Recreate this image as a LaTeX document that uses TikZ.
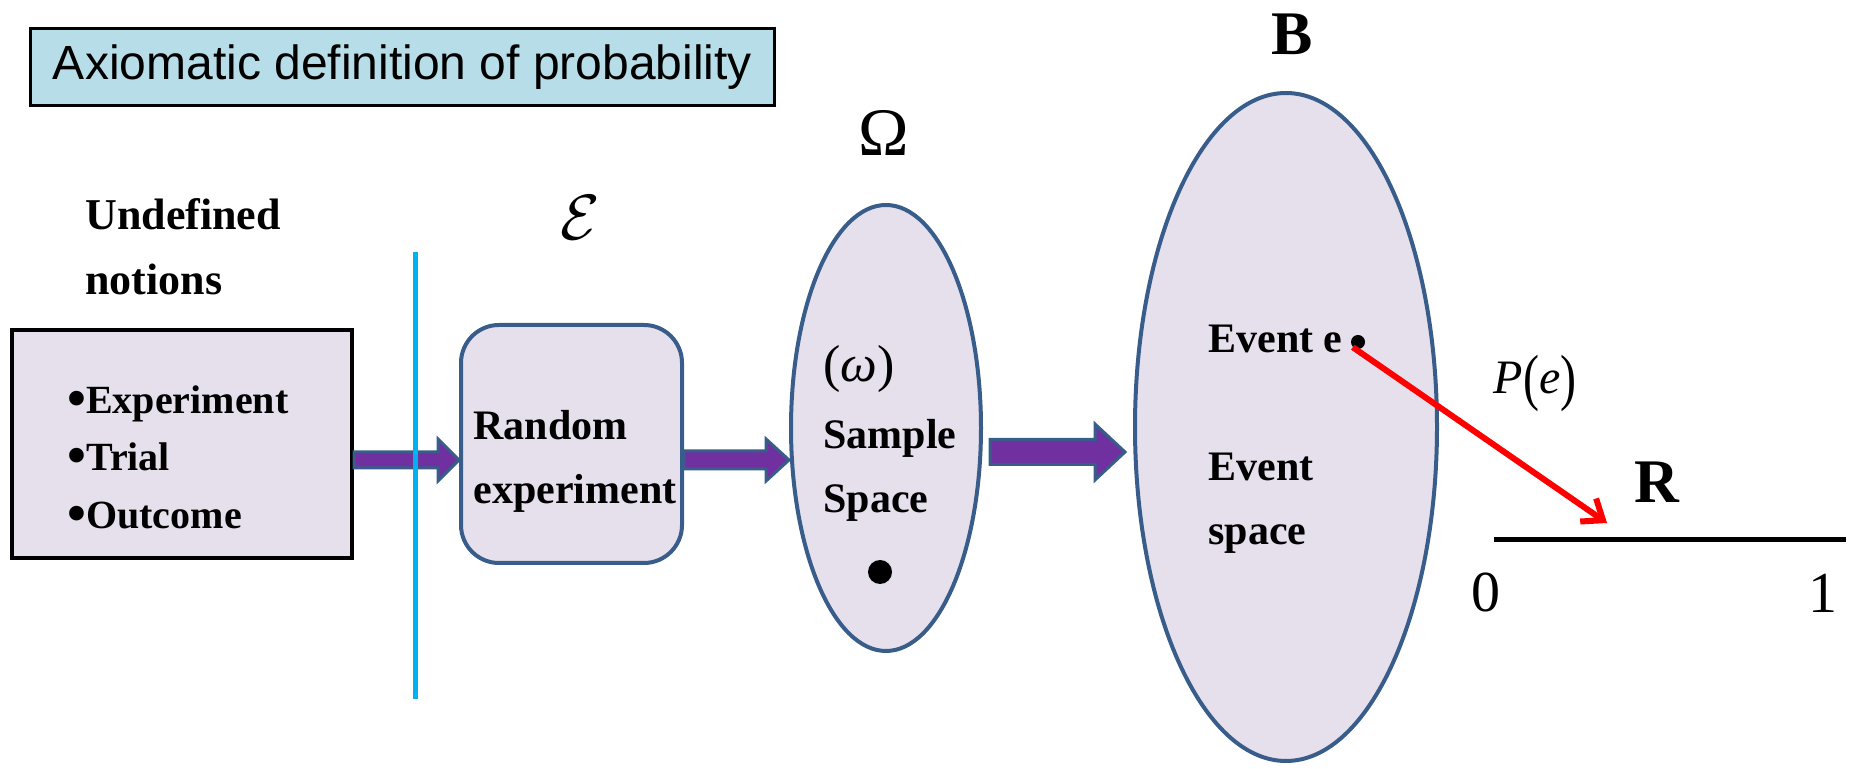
\documentclass[tikz,border=0pt]{standalone}
\usepackage{fontspec}
\setmainfont{Liberation Serif}
\newfontfamily\headfont{Liberation Sans}
\usepackage{graphicx}
\usepackage{tikz}
\usetikzlibrary{arrows.meta,calc,shapes.geometric}
\definecolor{titlefill}{HTML}{B7DEE8}
\definecolor{setfill}{HTML}{E5E0EC}
\definecolor{setedge}{HTML}{385D8A}
\definecolor{flow}{HTML}{7030A0}
\definecolor{divider}{HTML}{00B0F0}
\tikzset{
  setbox/.style={draw=setedge, fill=setfill, line width=2pt, inner sep=0pt},
  plainbox/.style={draw=black, fill=setfill, line width=2pt, inner sep=0pt},
  notes/.style={font=\fontsize{21}{32}\selectfont\bfseries, align=left,
                inner sep=0pt, anchor=north west},
  fatarrow/.style={draw=setedge, fill=flow, line width=1.5pt, line join=miter},
  symb/.style={inner sep=0pt},
  dot/.style={circle, fill=black, inner sep=0pt}
}
% start, end, half shaft, half head, head length
\newcommand{\blockarrow}[5]{%
  \draw[fatarrow] let \p1=(#1), \p2=(#2) in
    (\x1,\y1+#3) -- (\x2-#5,\y1+#3) -- (\x2-#5,\y1+#4) -- (\x2,\y1)
    -- (\x2-#5,\y1-#4) -- (\x2-#5,\y1-#3) -- (\x1,\y1-#3) -- cycle;}
\newcommand{\bul}{\raisebox{-0.08em}{\scalebox{1.35}{•}}}
\newcommand{\tallparen}[1]{\raisebox{-0.1em}{\scalebox{1}[1.3]{#1}}}

\begin{document}
\begin{tikzpicture}[x=0.5pt,y=-0.5pt]
  \useasboundingbox (0,0) rectangle (1849,769);

  % heading
  \node[draw=black, fill=titlefill, line width=1.5pt, minimum width=372pt,
        minimum height=38.5pt, inner sep=0pt,
        font=\headfont\fontsize{24}{28}\selectfont] (heading) at (402.5,67)
        {Axiomatic definition of probability};

  % undefined notions
  \node[notes, font=\fontsize{22}{32.5}\selectfont\bfseries] (undef) at (85,198)
        {Undefined\\notions};
  \node[plainbox, minimum width=170pt, minimum height=114pt] (notions) at (182,444) {};
  \node[notes, font=\fontsize{20}{28.75}\selectfont\bfseries] (items) at (67,385)
        {\bul Experiment\\\bul Trial\\\bul Outcome};

  % random experiment
  \node[setbox, rounded corners=19pt, minimum width=110.5pt,
        minimum height=119pt] (random) at (571.5,444) {};
  \node[notes] (randomtxt) at (473,410) {Random\\experiment};
  \node[symb] (calE) at (580,218) {\scalebox{3.2}{$\mathcal{E}$}};

  % sample space
  \node[setbox, ellipse, minimum width=95pt, minimum height=223pt] (omega) at (886,428) {};
  \node[symb, font=\fontsize{34}{34}\selectfont] (omegalbl) at (884,133) {Ω};
  \node[symb, anchor=west, font=\fontsize{26}{26}\selectfont] (outcome) at (823,369)
        {(\textit{ω})};
  \node[notes] (sampletxt) at (823,419) {Sample\\Space};
  \node[dot, minimum size=12pt] (sdot) at (880,572) {};

  % event space
  \node[setbox, ellipse, minimum width=151pt, minimum height=334pt] (events) at (1286,427) {};
  \node[symb, font=\fontsize{31}{31}\selectfont\bfseries] (blbl) at (1292,34) {B};
  \node[notes] (eventtxt) at (1208,325) {Event e};
  \node[dot, minimum size=7pt] (edot) at (1358,342) {};
  \node[notes] (spacetxt) at (1208,453) {Event\\space};

  % flow arrows
  \coordinate (flowy) at (0,460);
  \blockarrow{notions.east |- flowy}{random.west |- flowy}{4pt}{10.5pt}{10.5pt}
  \blockarrow{random.east |- flowy}{omega.west |- flowy}{4.5pt}{10.5pt}{11.5pt}
  \coordinate (mapfrom) at (990,452);
  \coordinate (mapto) at (1125,452);
  \blockarrow{mapfrom}{mapto}{6.25pt}{14pt}{15pt}

  \draw[divider, line width=2.5pt] (415,252) -- (415,699);

  % real line
  \coordinate (zero) at (1494,540);
  \coordinate (one) at (1846,540);
  \draw[line width=2.5pt] (zero) -- (one);
  \node[symb, font=\fontsize{29}{29}\selectfont] (zerolbl) at (1486,592) {0};
  \node[symb, font=\fontsize{29}{29}\selectfont] (onelbl) at (1823,593) {1};
  \node[symb, font=\fontsize{31}{31}\selectfont\bfseries] (rlbl) at (1657,482) {R};

  % probability map
  \coordinate (hit) at (1607,523);
  \draw[red, line width=3pt, -{Straight Barb[length=9pt,width=14pt]}]
    (edot.south west) -- (hit);
  \node[symb, font=\fontsize{24}{24}\selectfont] (plbl) at (1535,383)
    {\textit{P}\tallparen{(}\textit{e}\tallparen{)}};
\end{tikzpicture}
\end{document}
